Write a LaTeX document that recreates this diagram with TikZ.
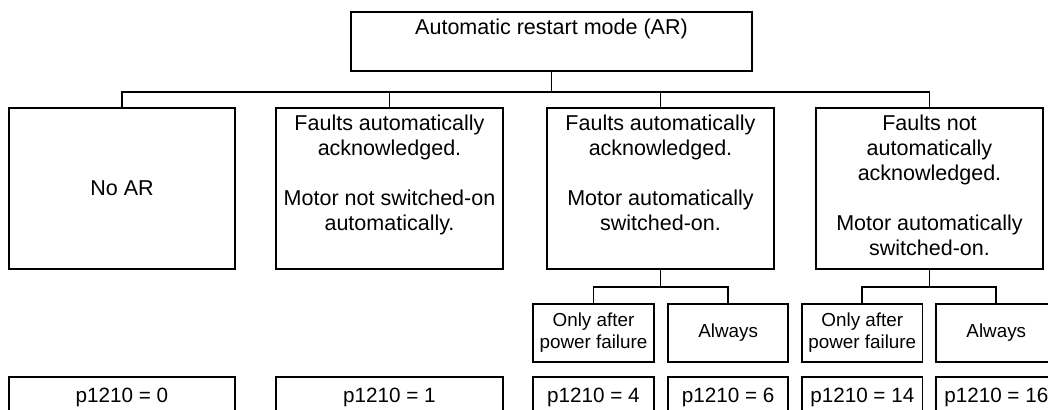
\documentclass[tikz,border=0pt]{standalone}
\usepackage{fontspec}
\setmainfont{Liberation Sans}
\usetikzlibrary{positioning,calc}

\begin{document}
\begin{tikzpicture}[
    % --- Box styles ---
    modebox/.style={draw, line width=1.35pt, minimum width=5.66cm, minimum height=4.025cm,
                    inner sep=0pt, anchor=north},
    topbox/.style={modebox, minimum width=10.025cm, minimum height=1.475cm},
    optbox/.style={draw, line width=1.35pt, minimum width=3.01cm, minimum height=1.4575cm,
                   inner sep=0pt, anchor=north, align=center,
                   font=\fontsize{13.4pt}{16.1pt}\selectfont},
    valbox/.style={draw, line width=1.35pt, minimum height=2cm, inner sep=0pt, anchor=north},
    % --- Text styles ---
    boxtext/.style={inner sep=0pt, align=center, font=\fontsize{15.3pt}{17.7pt}\selectfont},
    valtext/.style={inner sep=0pt, font=\fontsize{14.7pt}{17pt}\selectfont},
    % --- Connector style ---
    tree edge/.style={line width=1.35pt},
]

% picture frame (right-hand boxes run past the edge)
\clip (0,0) rectangle (26.2,-10.25);

% ============================================================
% Top: the restart mode itself
% ============================================================
\node[topbox] (AR) at (13.7875,-0.275) {};
\node[boxtext, below=0.2cm of AR.north] (ARt) {Automatic restart mode (AR)};

% ============================================================
% Level 2: the four behaviours
% ============================================================
\node[modebox] (noAR)    at ( 3.05,   -2.675) {};
\node[modebox] (ackOnly) at ( 9.7375, -2.675) {};
\node[modebox] (ackOn)   at (16.5125, -2.675) {};
\node[modebox] (noAck)   at (23.2375, -2.675) {};

\node[boxtext] (noARt) at (noAR) {No AR};
\node[boxtext, below=0.2cm of ackOnly.north] (ackOnlyt)
  {Faults automatically\\acknowledged.\\[0.625cm]Motor not switched-on\\automatically.};
\node[boxtext, below=0.2cm of ackOn.north] (ackOnt)
  {Faults automatically\\acknowledged.\\[0.625cm]Motor automatically\\switched-on.};
\node[boxtext, below=0.2cm of noAck.north] (noAckt)
  {Faults not\\automatically\\acknowledged.\\[0.625cm]Motor automatically\\switched-on.};

% --- Tree from the top box ---
\coordinate (split1) at ($(AR.south)+(0,-0.5)$);
\foreach \b in {noAR, ackOnly, ackOn, noAck}
  \draw[tree edge] (AR.south) -- (split1) -| (\b.north);

% ============================================================
% Level 3: when the motor is switched on
% ============================================================
\node[optbox] (pf4)  at (14.8375, -7.5675) {Only after\\power failure};
\node[optbox] (al6)  at (18.205,  -7.5675) {Always};
\node[optbox] (pf14) at (21.5575, -7.5675) {Only after\\power failure};
\node[optbox] (al16) at (24.9075, -7.5675) {Always};

\coordinate (split4)  at ($(ackOn.south)+(0,-0.4325)$);
\coordinate (split14) at ($(noAck.south)+(0,-0.4325)$);
\foreach \b in {pf4, al6}
  \draw[tree edge] (ackOn.south) -- (split4) -| (\b.north);
\foreach \b in {pf14, al16}
  \draw[tree edge] (noAck.south) -- (split14) -| (\b.north);

% ============================================================
% Bottom row: parameter values
% ============================================================
\foreach \x/\w/\v in {3.05/5.66/0, 9.7375/5.66/1, 14.8375/3.01/4,
                      18.205/3.01/6, 21.5575/3.01/14, 24.9075/3.01/16} {
  \node[valbox, minimum width=\w cm] (val\v) at (\x,-9.3925) {};
  \node[valtext, below=0.31cm of val\v.north] (valt\v) {p1210 = \v};
}

\end{tikzpicture}
\end{document}
